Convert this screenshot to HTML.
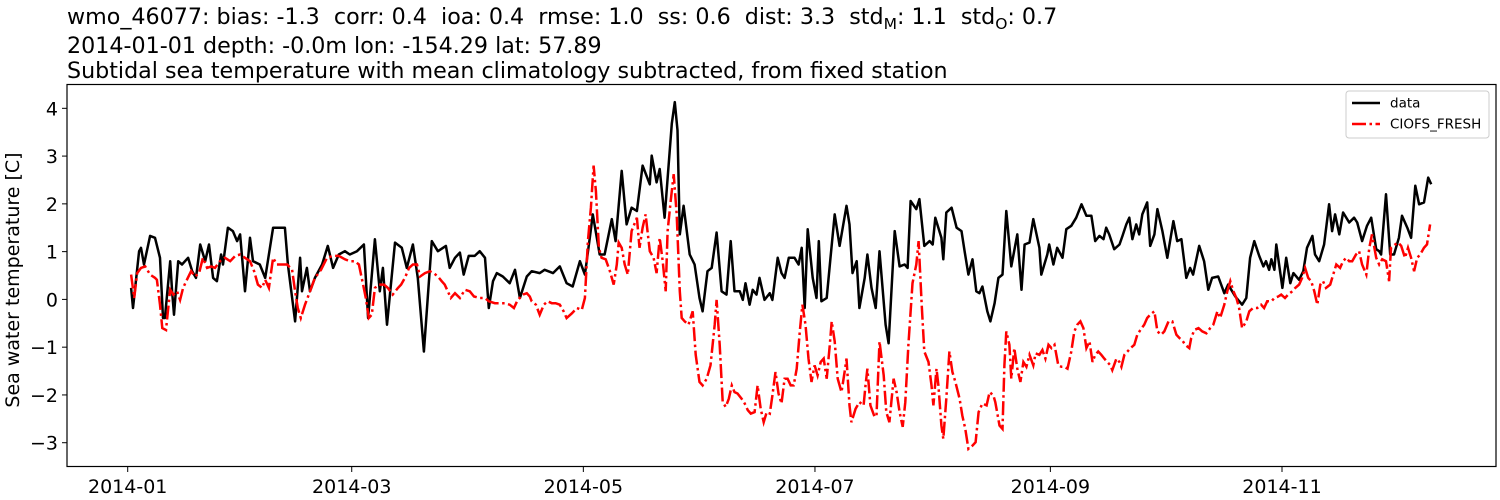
<!DOCTYPE html>
<html><head><meta charset="utf-8">
<style>
html,body{margin:0;padding:0;background:#fff;}
svg{display:block;font-family:"DejaVu Sans","Liberation Sans",sans-serif;}
text{white-space:pre;}
</style></head>
<body>
<svg id="chart" width="1500" height="500" viewBox="0 0 1500 500" xmlns="http://www.w3.org/2000/svg" xml:space="preserve">
  <g font-size="22.2" fill="#000">
    <text x="67" y="24">wmo_46077: bias: -1.3  corr: 0.4  ioa: 0.4  rmse: 1.0  ss: 0.6  dist: 3.3  std<tspan font-size="15.5" dy="5">M</tspan><tspan dy="-5">: 1.1  std</tspan><tspan font-size="15.5" dy="5">O</tspan><tspan dy="-5">: 0.7</tspan></text>
    <text x="67" y="53">2014-01-01 depth: -0.0m lon: -154.29 lat: 57.89</text>
    <text x="67" y="78">Subtidal sea temperature with mean climatology subtracted, from fixed station</text>
  </g>
  <g id="series"></g>
  <rect x="67" y="84.5" width="1429" height="382" fill="none" stroke="#000" stroke-width="1.2"/>
  <g id="yticks" font-size="19"></g>
  <g id="xticks" font-size="19"></g>
  <text font-size="19" text-anchor="middle" transform="translate(19,280) rotate(-90)">Sea water temperature [C]</text>
  <g>
    <rect x="1346" y="91" width="143" height="47" rx="3" fill="#fff" stroke="#ccc" stroke-width="1"/>
    <g>
      <line x1="1352" y1="103" x2="1380" y2="103" stroke="#000" stroke-width="2.5"/>
      <text x="1390" y="107.5" font-size="13.5">data</text>
    </g>
    <g>
      <line x1="1352" y1="124" x2="1380" y2="124" stroke="#f00" stroke-width="2.5" stroke-dasharray="14,3.5,2.5,3.5"/>
      <text x="1390" y="128.5" font-size="13.5">CIOFS_FRESH</text>
    </g>
  </g>
</svg>
<script>
// ---- data ----
const startDay = 0.9; // day of 2014 of first sample
const obsDays = [0,0.5,2.1,2.6,3.4,5.0,6.3,7.6,8.4,8.9,10.3,10.8,11.3,12.4,13.4,15.0,16.1,17.1,18.2,19.5,20.5,21.6,22.6,23.7,24.2,25.5,26.8,27.9,28.7,30.0,31.3,32.1,33.9,35.3,37.4,40.5,41.3,43.2,44.5,45.0,46.3,47.1,48.4,50.3,51.8,53.2,54.7,56.3,57.6,59.5,61.3,62.4,64.2,65.5,66.3,67.4,69.5,71.3,72.6,74.2,75.5,77.1,79.2,80.8,82.9,83.9,85.3,86.6,87.6,88.9,90.5,91.8,93.2,94.2,95.3,96.3,97.9,99.7,101.1,102.4,104.2,105.5,107.6,108.9,111.1,112.9,114.7,116.3,118.2,119.5,120.8,121.6,123.4,124.7,126.6,127.6,129.2,130.5,131.8,133.2,134.7,136.6,137.1,138.4,139.2,140.5,142.4,143.2,143.9,144.5,145.5,147.1,148.4,149.7,150.5,151.8,152.9,154.2,155.5,156.8,157.9,158.9,160.3,161.1,161.8,162.9,163.7,164.7,165.5,166.8,168.2,168.9,170.3,171.3,172.1,173.2,174.7,175.8,176.6,177.4,178.2,179.5,180.5,181.1,181.8,183.2,184.2,185.3,186.6,188.4,189.2,190.0,191.1,191.8,193.2,193.9,195.0,196.1,197.1,198.7,199.5,201.1,202.4,203.7,204.5,205.3,206.8,207.6,208.9,210.3,211.1,211.8,213.4,213.9,214.7,216.1,217.4,218.7,219.5,220.5,221.6,222.6,223.4,224.2,225.5,226.3,227.4,228.4,229.5,230.5,231.8,233.4,234.5,235.3,236.6,237.6,239.2,239.7,241.3,241.8,242.9,243.9,245.3,246.3,247.6,248.9,250.3,251.6,252.9,253.9,255.0,256.1,256.8,257.6,258.9,260.3,261.1,262.1,262.9,263.7,264.7,265.5,266.3,267.6,268.4,269.5,270.3,271.6,272.9,274.5,275.5,276.6,277.9,278.9,279.7,281.3,282.6,283.7,284.7,286.3,287.9,288.9,290.0,290.8,292.6,293.7,294.7,295.8,297.1,298.2,298.9,299.7,300.3,301.1,301.6,303.2,304.2,305.3,306.1,307.6,308.7,309.7,311.1,311.8,312.9,314.2,315.5,316.3,317.1,318.2,319.2,320.8,322.1,322.9,324.2,325.5,326.6,327.9,328.7,329.2,330.5,331.6,332.6,333.9,334.7,336.1,337.1,338.2,339.2,340.5,341.6,342.4];
const obsValues = [0.24,-0.18,1.01,1.08,0.73,1.33,1.29,0.87,-0.39,-0.39,0.80,0.17,-0.32,0.80,0.73,0.87,0.59,0.45,1.15,0.80,1.15,0.45,0.38,0.94,0.73,1.50,1.43,1.22,1.36,0.17,1.29,0.80,0.73,0.45,1.50,1.50,0.73,-0.46,0.87,0.17,0.66,0.17,0.45,0.73,1.12,0.66,0.94,1.01,0.94,1.01,1.15,-0.39,1.26,0.17,0.66,-0.53,1.19,1.08,0.66,1.15,0.45,-1.09,1.22,1.01,1.12,0.66,0.87,0.98,0.52,0.91,0.91,1.01,0.87,-0.18,0.38,0.55,0.48,0.34,0.62,0.03,0.48,0.59,0.55,0.62,0.55,0.69,0.34,0.27,0.80,0.52,1.29,1.78,0.94,0.94,1.68,1.22,2.69,1.57,1.92,1.85,2.80,2.41,3.01,2.45,2.73,1.71,3.68,4.13,3.54,1.36,1.96,0.94,0.73,0.03,-0.25,0.59,0.66,1.40,0.17,0.10,1.22,0.17,0.17,-0.01,0.34,-0.11,0.20,0.10,0.45,-0.01,0.13,-0.01,0.87,0.55,0.45,0.87,0.87,0.73,1.08,-0.18,1.47,0.45,0.03,1.22,-0.04,0.03,0.87,1.78,1.12,1.96,1.57,0.55,0.80,-0.18,0.45,0.94,0.24,-0.18,1.01,-0.53,-0.92,1.43,0.69,0.73,0.66,2.06,1.89,2.10,1.12,1.22,1.15,1.71,1.29,0.84,1.82,1.92,1.50,1.43,1.01,0.52,0.84,0.17,0.13,0.27,-0.25,-0.46,-0.08,0.45,0.52,1.85,0.69,1.36,0.20,1.15,1.19,1.68,1.08,0.52,0.94,1.15,0.73,1.08,0.87,1.47,1.54,1.71,1.99,1.75,1.75,1.22,1.33,1.26,1.50,1.36,1.05,1.15,1.33,1.57,1.71,1.26,1.57,1.36,1.78,2.03,1.12,1.36,1.89,1.43,0.87,1.64,1.22,1.26,0.45,0.66,0.52,1.12,0.80,0.20,0.45,0.48,0.13,0.31,0.17,0.06,-0.11,0.03,0.87,1.22,0.91,0.69,0.80,0.62,0.84,0.62,1.15,0.24,0.87,0.34,0.55,0.41,0.59,1.08,1.33,0.94,0.80,1.15,1.99,1.43,1.78,1.36,1.82,1.61,1.71,1.61,1.22,1.54,1.71,1.05,1.01,0.94,2.20,0.94,0.94,1.29,1.75,1.50,1.29,2.38,1.99,2.03,2.55,2.41];
const modDays = [0,0.8,1.6,2.6,3.7,5.0,6.3,6.8,7.6,8.2,9.2,9.7,10.3,11.1,12.1,12.9,13.7,14.7,15.8,16.8,17.9,18.9,20.0,21.1,22.1,23.4,24.7,26.1,27.4,28.7,30.0,31.3,32.4,33.4,34.5,35.3,36.3,37.4,38.4,39.7,41.1,42.4,43.2,43.9,44.7,45.8,46.8,48.4,50.0,51.6,53.2,54.7,56.3,57.6,58.9,60.0,61.1,61.8,62.6,63.4,64.2,65.3,66.6,67.6,68.9,70.3,71.1,72.1,73.2,74.2,75.3,76.1,77.4,78.7,79.7,80.8,81.8,82.6,83.4,84.2,85.3,86.6,87.9,89.2,90.3,91.8,93.2,94.2,95.8,97.1,98.4,99.7,100.8,101.8,103.2,104.2,105.0,105.5,106.6,107.6,108.7,109.7,110.8,111.8,112.9,113.9,114.7,116.1,117.4,118.7,119.5,120.3,121.1,121.8,122.4,123.2,123.9,125.0,126.1,127.1,127.9,128.4,129.2,130.0,130.8,131.8,133.2,133.9,134.7,135.5,136.6,137.6,138.4,139.2,140.0,140.8,141.3,142.1,142.9,143.7,144.5,145.0,145.8,146.8,147.9,148.7,149.7,150.5,151.6,152.6,153.7,154.2,155.0,155.8,156.6,157.4,158.2,158.9,159.7,160.8,161.6,162.4,163.2,164.2,165.0,165.8,166.6,167.4,168.2,168.9,169.7,170.5,171.3,172.1,172.9,173.7,174.5,175.3,176.1,176.8,177.6,178.4,179.2,180.0,180.8,181.6,182.4,183.2,184.0,184.5,185.3,186.1,187.1,187.9,188.4,189.2,189.7,190.8,191.8,192.9,193.4,193.9,194.7,195.8,196.3,197.1,198.2,198.9,199.7,200.8,201.6,202.4,203.2,203.9,204.7,205.8,206.8,207.4,208.2,208.9,210.0,210.8,211.3,212.1,212.6,213.4,213.9,214.7,215.5,216.3,217.1,218.2,218.9,219.7,220.5,221.6,222.4,223.2,224.2,225.3,226.1,227.1,227.6,228.7,229.5,230.0,230.5,231.3,231.8,232.6,233.4,234.2,235.0,235.8,236.6,237.6,238.2,239.2,240.0,240.8,241.6,242.4,243.2,244.2,245.0,245.8,246.6,247.6,248.4,249.2,250.0,250.8,251.6,252.4,253.2,253.9,254.7,255.5,256.3,257.1,257.9,258.4,259.5,260.3,260.8,261.6,262.4,263.2,264.2,265.0,265.8,266.8,267.6,268.4,269.5,270.3,271.3,272.1,273.2,274.2,275.3,276.1,276.8,277.6,278.7,279.2,280.0,281.1,282.1,283.2,284.2,285.0,286.1,286.8,287.9,288.7,289.5,290.3,291.1,291.8,292.6,293.7,294.5,295.5,296.6,297.6,298.4,299.2,300.3,301.1,302.1,302.9,303.9,304.7,305.8,306.6,307.6,308.4,309.2,310.0,310.8,311.6,312.4,313.2,313.9,314.7,315.8,316.6,317.4,318.4,319.2,320.0,320.8,321.6,322.6,323.4,324.2,325.3,326.1,326.8,327.9,328.7,329.5,330.5,331.3,331.8,332.9,333.7,334.5,335.5,336.3,337.1,337.9,338.7,339.5,340.5,341.3,342.1];
const modValues = [0.52,0.03,0.55,0.66,0.69,0.52,0.45,0.41,-0.11,-0.60,-0.64,-0.25,0.20,0.10,0.17,-0.01,0.24,0.41,0.59,0.48,0.55,0.87,0.66,0.69,0.66,0.80,0.87,0.80,0.91,0.94,0.87,0.80,0.59,0.31,0.24,0.41,0.24,0.87,0.73,0.73,0.73,0.62,0.17,-0.18,-0.39,-0.11,0.10,0.45,0.62,0.87,0.91,0.91,0.84,0.80,0.80,0.73,0.31,0.03,-0.39,-0.32,0.24,0.31,0.31,0.24,0.10,0.24,0.31,0.45,0.66,0.73,0.73,0.48,0.55,0.59,0.55,0.48,0.38,0.31,0.17,0.03,0.13,0.03,0.20,0.17,0.06,0.03,0.03,-0.04,-0.08,-0.08,-0.08,-0.11,-0.18,-0.01,0.10,0.13,0.06,-0.04,-0.11,-0.32,-0.11,-0.04,-0.08,-0.08,-0.11,-0.25,-0.39,-0.29,-0.18,-0.22,0.03,1.22,1.92,2.80,2.27,1.08,0.87,0.84,0.59,0.31,0.73,1.19,1.08,0.73,0.52,1.43,1.71,1.08,1.50,1.78,1.01,0.87,0.55,1.29,0.80,0.17,1.43,2.06,2.62,1.78,0.17,-0.39,-0.46,-0.53,-0.25,-1.16,-1.73,-1.80,-1.66,-1.38,-0.53,-0.01,-0.95,-2.15,-2.25,-2.08,-1.80,-1.94,-1.97,-2.08,-2.18,-2.32,-2.39,-2.36,-1.80,-2.29,-2.57,-2.36,-2.39,-2.01,-1.52,-1.97,-2.18,-1.66,-1.66,-1.80,-1.80,-1.45,-0.67,-0.11,-0.53,-1.24,-1.73,-1.38,-1.59,-1.31,-1.24,-1.66,-0.95,-0.46,-0.88,-1.66,-1.94,-1.52,-1.24,-2.22,-2.57,-2.29,-2.15,-2.22,-1.80,-1.45,-2.22,-2.46,-2.43,-0.88,-1.59,-2.36,-2.57,-1.66,-1.94,-2.36,-2.67,-2.15,-0.95,0.34,0.73,1.22,-0.11,-1.09,-1.31,-1.80,-2.22,-1.45,-1.80,-2.64,-2.92,-2.08,-1.09,-1.52,-1.73,-2.08,-2.43,-2.71,-3.13,-3.06,-2.99,-2.36,-2.18,-2.22,-1.94,-2.01,-2.15,-2.64,-2.71,-1.38,-0.67,-0.95,-1.66,-1.02,-1.45,-1.73,-1.31,-1.41,-1.16,-1.38,-1.13,-1.16,-1.06,-1.24,-0.95,-1.02,-0.95,-1.38,-1.41,-1.41,-1.45,-1.09,-0.67,-0.53,-0.46,-0.60,-1.02,-0.88,-1.31,-1.16,-1.09,-1.16,-1.24,-1.31,-1.38,-1.48,-1.24,-1.31,-1.41,-1.16,-1.09,-1.02,-0.95,-0.74,-0.64,-0.53,-0.39,-0.32,-0.25,-0.67,-0.74,-0.67,-0.46,-0.46,-0.74,-0.81,-0.85,-0.95,-1.02,-0.81,-0.64,-0.60,-0.67,-0.71,-0.60,-0.53,-0.25,-0.39,-0.11,0.17,0.38,0.17,0.03,-0.18,-0.60,-0.46,-0.25,-0.18,-0.18,-0.11,-0.18,-0.04,-0.04,0.03,0.06,0.10,0.03,0.10,0.17,0.24,0.31,0.45,0.66,0.45,0.38,0.17,-0.11,0.31,0.38,0.24,0.31,0.52,0.73,0.66,0.80,0.87,0.80,0.80,0.94,1.01,0.73,0.52,1.08,1.36,0.87,0.73,0.84,0.80,0.38,1.08,1.15,1.19,1.12,0.87,1.08,0.87,0.59,0.87,0.94,1.08,1.15,1.57];
const yTicks = [-3,-2,-1,0,1,2,3,4];
const yTickLabels = ["\u22123","\u22122","\u22121","0","1","2","3","4"];
const xTickDays = [0,59,120,181,243,304];
const xTickLabels = ["2014-01","2014-03","2014-05","2014-07","2014-09","2014-11"];

// ---- axes ----
const NS = "http://www.w3.org/2000/svg";
function xScale(day){ return 127.7 + day * 3.797; }
function yScale(v){ return 299.4 - v * 47.77; }

function linePath(days, vals){
  let d = "";
  for (let i = 0; i < days.length; i++){
    d += (i ? "L" : "M") + xScale(days[i] + startDay).toFixed(1) + "," + yScale(vals[i]).toFixed(1);
  }
  return d;
}
const series = document.getElementById("series");
const obs = document.createElementNS(NS, "path");
obs.setAttribute("d", linePath(obsDays, obsValues));
obs.setAttribute("fill", "none");
obs.setAttribute("stroke", "#000");
obs.setAttribute("stroke-width", "2.5");
obs.setAttribute("stroke-linejoin", "round");


series.appendChild(obs);
const mod = document.createElementNS(NS, "path");
mod.setAttribute("d", linePath(modDays, modValues));
mod.setAttribute("fill", "none");
mod.setAttribute("stroke", "#f00");
mod.setAttribute("stroke-width", "2.5");
mod.setAttribute("stroke-dasharray", "14,3.5,2.5,3.5");


series.appendChild(mod);

const yt = document.getElementById("yticks");
yTicks.forEach((v, i) => {
  const y = yScale(v);
  const t = document.createElementNS(NS, "line");
  t.setAttribute("x1", 62); t.setAttribute("x2", 67);
  t.setAttribute("y1", y); t.setAttribute("y2", y);
  t.setAttribute("stroke", "#000"); t.setAttribute("stroke-width", "1");
  
  
  yt.appendChild(t);
  const l = document.createElementNS(NS, "text");
  l.setAttribute("x", 58); l.setAttribute("y", y + 7);
  l.setAttribute("text-anchor", "end");
  l.textContent = yTickLabels[i];
  
  
  yt.appendChild(l);
});
const xt = document.getElementById("xticks");
xTickDays.forEach((d, i) => {
  const x = xScale(d);
  const t = document.createElementNS(NS, "line");
  t.setAttribute("x1", x); t.setAttribute("x2", x);
  t.setAttribute("y1", 467); t.setAttribute("y2", 472);
  t.setAttribute("stroke", "#000"); t.setAttribute("stroke-width", "1");
  
  
  xt.appendChild(t);
  const l = document.createElementNS(NS, "text");
  l.setAttribute("x", x); l.setAttribute("y", 493);
  l.setAttribute("text-anchor", "middle");
  l.textContent = xTickLabels[i];
  
  
  xt.appendChild(l);
});
</script>
</body></html>
